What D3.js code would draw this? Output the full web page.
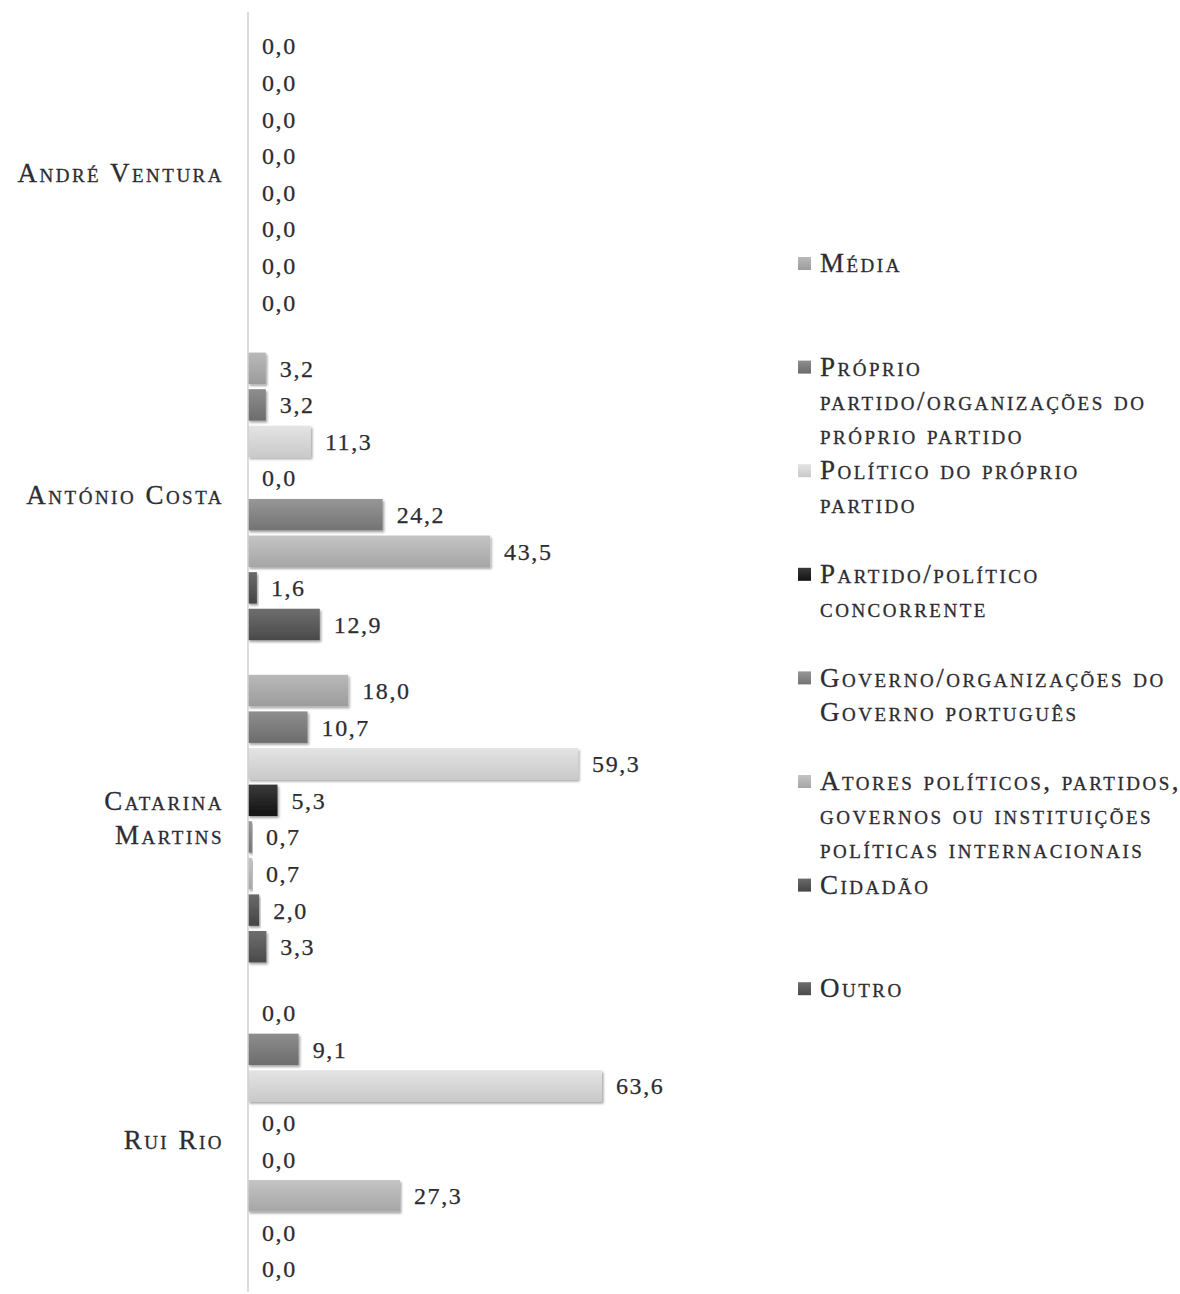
<!DOCTYPE html>
<html>
<head>
<meta charset="utf-8">
<script src="https://cdn.jsdelivr.net/npm/d3@7"></script>
<style>
  html, body { margin: 0; padding: 0; background: #fff; }
  svg { display: block; }
  .sc { font-family: "Liberation Serif", "DejaVu Serif", serif; font-variant: small-caps; fill: #2c2c32; stroke: #2c2c32; stroke-width: 0.3px; letter-spacing: 2.5px; }
  .val { font-family: "Liberation Serif", "DejaVu Serif", serif; fill: #2c2c32; stroke: #2c2c32; stroke-width: 0.25px; letter-spacing: 1.6px; }
</style>
</head>
<body>
<svg id="chart" width="1180" height="1294"></svg>
<script>
// Politicians (groups) and source types (one bar per type within each group)
const politicians = ["André Ventura", "António Costa", "Catarina Martins", "Rui Rio"];
const politicianLines = [["André Ventura"], ["António Costa"], ["Catarina", "Martins"], ["Rui Rio"]];

const sources = [
  "Média",
  "Próprio partido/organizações do próprio partido",
  "Político do próprio partido",
  "Partido/político concorrente",
  "Governo/organizações do Governo português",
  "Atores políticos, partidos, governos ou instituições políticas internacionais",
  "Cidadão",
  "Outro"
];
const legendLines = [
  ["Média"],
  ["Próprio", "partido/organizações do", "próprio partido"],
  ["Político do próprio", "partido"],
  ["Partido/político", "concorrente"],
  ["Governo/organizações do", "Governo português"],
  ["Atores políticos, partidos,", "governos ou instituições", "políticas internacionais"],
  ["Cidadão"],
  ["Outro"]
];

// Percentages per source type, in the order of `sources`
const valuesVentura  = [0.0, 0.0, 0.0, 0.0, 0.0, 0.0, 0.0, 0.0];
const valuesCosta    = [3.2, 3.2, 11.3, 0.0, 24.2, 43.5, 1.6, 12.9];
const valuesMartins  = [18.0, 10.7, 59.3, 5.3, 0.7, 0.7, 2.0, 3.3];
const valuesRio      = [0.0, 9.1, 63.6, 0.0, 0.0, 27.3, 0.0, 0.0];
const seriesValues = [valuesVentura, valuesCosta, valuesMartins, valuesRio];

// Grey shades per source type: [top, bottom] of the bar gradient
const shades = [
  ["#b9b9b9", "#9c9c9c"],
  ["#8e8e8e", "#6c6c6c"],
  ["#e4e4e4", "#c9c9c9"],
  ["#3a3a3a", "#121212"],
  ["#979797", "#737373"],
  ["#c4c4c4", "#a6a6a6"],
  ["#6a6a6a", "#454545"],
  ["#6e6e6e", "#4a4a4a"]
];

const svg = d3.select("#chart");
const defs = svg.append("defs");

shades.forEach((s, i) => {
  const g = defs.append("linearGradient").attr("id", "grad" + i)
    .attr("x1", 0).attr("y1", 0).attr("x2", 0).attr("y2", 1);
  g.append("stop").attr("offset", "0%").attr("stop-color", s[0]);
  g.append("stop").attr("offset", "100%").attr("stop-color", s[1]);
});

const shadow = defs.append("filter").attr("id", "shadow")
  .attr("x", "-5%").attr("y", "-20%").attr("width", "120%").attr("height", "160%");
shadow.append("feDropShadow").attr("dx", 1.5).attr("dy", 2).attr("stdDeviation", 1.3)
  .attr("flood-color", "#000").attr("flood-opacity", 0.35);

const x0 = 248;
const x = d3.scaleLinear().domain([0, 63.6]).range([x0, 602]);

const yGroup = d3.scaleBand().domain(politicians).range([13, 1302]).padding(0);
const ySeries = d3.scaleBand().domain(sources).range([0, yGroup.bandwidth()])
  .paddingInner(0.14).paddingOuter(0.473);

// Bars and value labels
const groups = svg.selectAll("g.group")
  .data(politicians.map((p, i) => ({ name: p, values: seriesValues[i] })))
  .join("g").attr("class", "group")
  .attr("transform", d => `translate(0,${yGroup(d.name)})`);

groups.selectAll("rect")
  .data(d => d.values.map((v, j) => ({ v, j })))
  .join("rect")
  .attr("x", x(0))
  .attr("y", d => ySeries(sources[d.j]))
  .attr("height", ySeries.bandwidth())
  .attr("width", d => x(d.v) - x(0))
  .attr("fill", d => `url(#grad${d.j})`)
  .attr("filter", "url(#shadow)");

groups.selectAll("text.val")
  .data(d => d.values.map((v, j) => ({ v, j })))
  .join("text").attr("class", "val")
  .attr("x", d => x(d.v) + 14)
  .attr("y", d => ySeries(sources[d.j]) + ySeries.bandwidth() / 2)
  .attr("dy", "0.35em")
  .attr("font-size", 24)
  .text(d => d.v.toFixed(1).replace(".", ","));

// Vertical category axis line
svg.append("line")
  .attr("x1", x0).attr("x2", x0)
  .attr("y1", 12).attr("y2", 1292)
  .attr("stroke", "#d0d0d0").attr("stroke-width", 1.5);

// Category labels
politicians.forEach((p, i) => {
  const lines = politicianLines[i];
  const cy = yGroup(p) + yGroup.bandwidth() / 2;
  const lh = 34;
  const t = svg.append("text").attr("class", "sc")
    .attr("text-anchor", "end").attr("font-size", 27);
  lines.forEach((ln, k) => {
    t.append("tspan").attr("x", 224)
      .attr("y", cy + (k - (lines.length - 1) / 2) * lh)
      .attr("dy", "0.3em").text(ln);
  });
});

// Legend
const legendTop = 264;
const legendStep = 103.6;
const legend = svg.append("g");
sources.forEach((s, i) => {
  const y = legendTop + i * legendStep;
  legend.append("rect")
    .attr("x", 798).attr("y", y - 7).attr("width", 13).attr("height", 13)
    .attr("fill", `url(#grad${i})`);
  const t = legend.append("text").attr("class", "sc").attr("font-size", 27);
  legendLines[i].forEach((ln, k) => {
    t.append("tspan").attr("x", 820).attr("y", y + k * 34).attr("dy", "0.3em").text(ln);
  });
});
</script>
</body>
</html>
